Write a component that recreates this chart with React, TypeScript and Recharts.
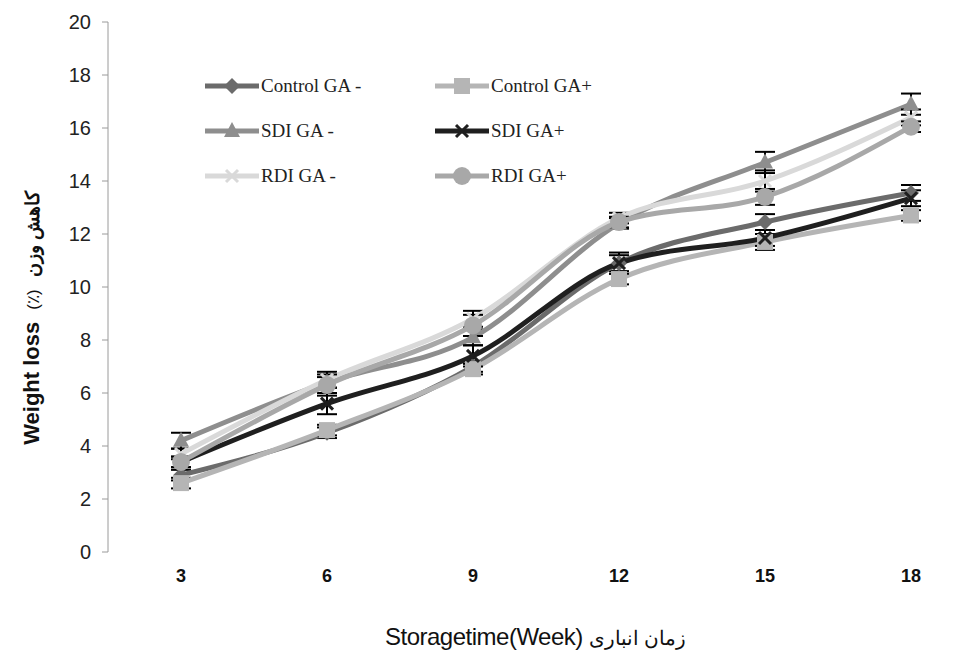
import { LineChart, Line, XAxis, YAxis, ErrorBar } from 'recharts'

const weeks = [3, 6, 9, 12, 15, 18]
const yTicks = [0, 2, 4, 6, 8, 10, 12, 14, 16, 18, 20]
const boundaryTicks = [1.5, 4.5, 7.5, 10.5, 13.5, 16.5, 19.5]

const controlMinus = [2.9, 4.5, 7.0, 10.9, 12.45, 13.55]
const controlPlus = [2.6, 4.6, 6.9, 10.3, 11.7, 12.7]
const sdiMinus = [4.2, 6.4, 8.1, 12.4, 14.7, 16.9]
const sdiPlus = [3.4, 5.6, 7.4, 10.9, 11.85, 13.35]
const rdiMinus = [3.7, 6.5, 8.8, 12.6, 14.0, 16.4]
const rdiPlus = [3.4, 6.3, 8.55, 12.45, 13.4, 16.05]

const controlMinusErr = [0.2, 0.2, 0.2, 0.3, 0.3, 0.3]
const controlPlusErr = [0.2, 0.2, 0.2, 0.2, 0.3, 0.2]
const sdiMinusErr = [0.3, 0.2, 0.3, 0.2, 0.4, 0.4]
const sdiPlusErr = [0.2, 0.4, 0.4, 0.4, 0.3, 0.3]
const rdiMinusErr = [0.2, 0.3, 0.3, 0.2, 0.4, 0.3]
const rdiPlusErr = [0.2, 0.4, 0.4, 0.2, 0.3, 0.2]

const data = weeks.map((week, i) => ({
  week,
  controlMinus: controlMinus[i],
  controlPlus: controlPlus[i],
  sdiMinus: sdiMinus[i],
  sdiPlus: sdiPlus[i],
  rdiMinus: rdiMinus[i],
  rdiPlus: rdiPlus[i],
  controlMinusErr: controlMinusErr[i],
  controlPlusErr: controlPlusErr[i],
  sdiMinusErr: sdiMinusErr[i],
  sdiPlusErr: sdiPlusErr[i],
  rdiMinusErr: rdiMinusErr[i],
  rdiPlusErr: rdiPlusErr[i],
}))

type Shape = 'diamond' | 'square' | 'triangle' | 'cross' | 'circle'

function Marker({ cx, cy, shape, color }: { cx: number; cy: number; shape: Shape; color: string }) {
  if (shape === 'diamond') {
    const s = 8
    return <polygon points={`${cx},${cy - s} ${cx + s},${cy} ${cx},${cy + s} ${cx - s},${cy}`} fill={color} />
  }
  if (shape === 'square') {
    return <rect x={cx - 8} y={cy - 8} width={16} height={16} fill={color} />
  }
  if (shape === 'triangle') {
    return <polygon points={`${cx},${cy - 9} ${cx + 8},${cy + 6} ${cx - 8},${cy + 6}`} fill={color} />
  }
  if (shape === 'cross') {
    return (
      <g stroke={color} strokeWidth={3}>
        <line x1={cx - 6} y1={cy - 6} x2={cx + 6} y2={cy + 6} />
        <line x1={cx - 6} y1={cy + 6} x2={cx + 6} y2={cy - 6} />
      </g>
    )
  }
  return <circle cx={cx} cy={cy} r={9} fill={color} />
}

const series = [
  { key: 'controlMinus', name: 'Control GA -', color: '#6b6b6b', shape: 'diamond' as Shape },
  { key: 'controlPlus', name: 'Control GA+', color: '#b5b5b5', shape: 'square' as Shape },
  { key: 'sdiMinus', name: 'SDI GA -', color: '#8e8e8e', shape: 'triangle' as Shape },
  { key: 'sdiPlus', name: 'SDI GA+', color: '#1f1f1f', shape: 'cross' as Shape },
  { key: 'rdiMinus', name: 'RDI GA -', color: '#d9d9d9', shape: 'cross' as Shape },
  { key: 'rdiPlus', name: 'RDI GA+', color: '#a8a8a8', shape: 'circle' as Shape },
]

function LegendItem({ name, color, shape }: { name: string; color: string; shape: Shape }) {
  return (
    <div style={{ display: 'flex', alignItems: 'center', height: 45 }}>
      <svg width={54} height={20}>
        <line x1={0} y1={10} x2={54} y2={10} stroke={color} strokeWidth={5} strokeLinecap='round' />
        <Marker cx={27} cy={10} shape={shape} color={color} />
      </svg>
      <span style={{ fontFamily: '"Liberation Serif", serif', fontSize: 19, color: '#222', marginLeft: 2 }}>{name}</span>
    </div>
  )
}

export default function App() {
  return (
    <div style={{ position: 'absolute', left: 0, top: 0, width: 974, height: 660, overflow: 'hidden', background: '#fff' }}>
      <LineChart width={990} height={660} data={data} margin={{ top: 22, right: 6, bottom: 0, left: 0 }}>
        <XAxis
          xAxisId='bounds'
          type='number'
          dataKey='week'
          domain={[1.5, 19.5]}
          ticks={boundaryTicks}
          tick={false}
          tickSize={7}
          height={0}
          stroke='#9a9a9a'
          allowDataOverflow
        />
        <XAxis
          type='number'
          dataKey='week'
          domain={[1.5, 19.5]}
          ticks={weeks}
          height={108}
          axisLine={false}
          tickLine={false}
          tickSize={0}
          tickMargin={17}
          tick={{ fill: '#111', fontSize: 18, fontWeight: 'bold', fontFamily: '"Liberation Sans", Arial' }}
          allowDataOverflow
        />
        <YAxis
          domain={[0, 20]}
          ticks={yTicks}
          width={108}
          stroke='#9a9a9a'
          tickSize={6}
          tickMargin={11}
          tick={{ fill: '#222', fontSize: 20, fontFamily: '"Liberation Sans", Arial' }}
        />
        {series.map((s) => (
          <Line
            key={s.key}
            type='monotone'
            dataKey={s.key}
            stroke={s.color}
            strokeWidth={5}
            isAnimationActive={false}
            dot={(p: any) => <Marker key={`${s.key}-${p.index}`} cx={p.cx} cy={p.cy} shape={s.shape} color={s.color} />}
            activeDot={false}
          >
            <ErrorBar dataKey={`${s.key}Err`} direction='y' width={10} stroke='#000' strokeWidth={2} />
          </Line>
        ))}
      </LineChart>

      <div style={{ position: 'absolute', left: 205, top: 63, display: 'grid', gridTemplateColumns: '230px 200px' }}>
        {series.map((s) => (
          <LegendItem key={s.key} name={s.name} color={s.color} shape={s.shape} />
        ))}
      </div>

      <div
        style={{
          position: 'absolute',
          left: 32,
          top: 318,
          transform: 'translate(-50%, -50%) rotate(-90deg)',
          whiteSpace: 'nowrap',
          fontFamily: '"Liberation Sans", Arial',
          color: '#111',
        }}
      >
        <span style={{ fontSize: 22, fontWeight: 'bold' }}>Weight loss</span>
        <span style={{ fontSize: 17, marginLeft: 12 }}>(٪)</span>
        <span style={{ fontSize: 19, fontWeight: 'bold', marginLeft: 12 }}>کاهش وزن</span>
      </div>

      <div
        style={{
          position: 'absolute',
          left: 385,
          top: 623,
          whiteSpace: 'nowrap',
          fontFamily: '"Liberation Sans", Arial',
          color: '#111',
        }}
      >
        <span style={{ fontSize: 24, letterSpacing: -0.5 }}>Storagetime(Week)</span>
        <span style={{ fontSize: 20, marginLeft: 6 }}>زمان انباری</span>
      </div>
    </div>
  )
}
